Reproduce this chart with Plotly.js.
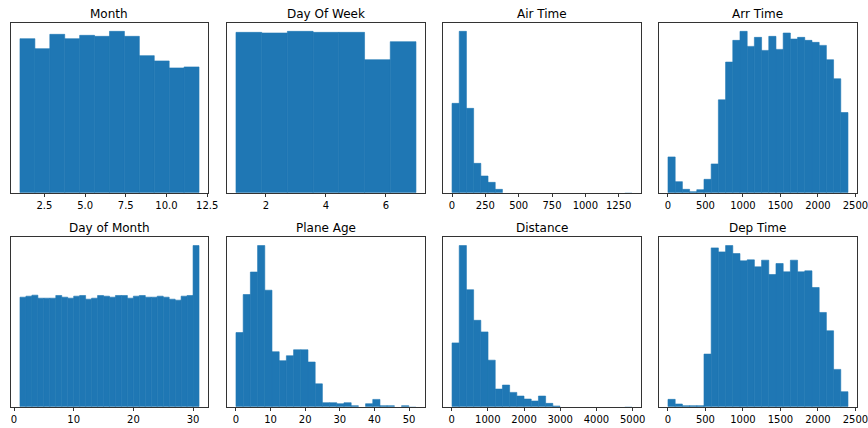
<!DOCTYPE html>
<html><head><meta charset="utf-8">
<script src="https://cdn.plot.ly/plotly-3.0.1.min.js"></script>
<style>html,body{margin:0;padding:0;background:#fff}</style>
</head><body><div id="chart" style="width:868px;height:428px"></div>
<script>
// Panel titles (row 1 then row 2)
const titles = ["Month", "Day Of Week", "Air Time", "Arr Time",
                "Day of Month", "Plane Age", "Distance", "Dep Time"];

// Histogram bin counts (relative)
const monthCounts = [463, 433, 476, 463, 473, 470, 485, 470, 412, 396, 375, 378];
const dayOfWeekCounts = [481, 479, 484, 481, 481, 399, 453];
const airTimeCounts = [268, 484, 253, 88, 50, 31, 10, 0, 0, 0, 0, 0, 0, 0, 0, 0, 0, 0, 0, 0, 0, 0, 0, 0, 0.2];
const arrTimeCounts = [107, 33, 10, 3, 9, 40, 86, 278, 391, 456, 483, 438, 465, 426, 468, 429, 478, 460, 465, 456, 450, 441, 398, 341, 240];
const dayOfMonthCounts = [329, 332, 335, 326, 326, 326, 334, 329, 326, 332, 334, 323, 326, 334, 332, 329, 334, 334, 326, 332, 334, 329, 329, 332, 329, 323, 320, 332, 334, 484];
const planeAgeCounts = [224, 339, 407, 487, 352, 166, 139, 154, 172, 172, 135, 69, 12, 12, 9, 12, 3, 0, 9, 22, 3, 3, 0, 3, 0.5];
const distanceCounts = [192, 485, 352, 260, 225, 140, 53, 65, 43, 32, 23, 17, 32, 10, 2, 0, 0, 0, 0, 0, 0, 0, 0, 0, 0.2];
const depTimeCounts = [22, 8, 3, 3, 3, 158, 477, 465, 484, 460, 438, 441, 420, 440, 397, 430, 405, 440, 405, 408, 358, 283, 228, 112, 45];

// Data range (min, max) of each variable
const monthRange = [1, 12];
const dayOfWeekRange = [1, 7];
const airTimeRange = [0, 1350];
const arrTimeRange = [1, 2400];
const dayOfMonthRange = [1, 31];
const planeAgeRange = [0, 52];
const distanceRange = [11, 4983];
const depTimeRange = [1, 2400];

// Tick spacing per panel
const tickSteps = [2.5, 2, 250, 500, 10, 10, 1000, 500];
const tickFormats = [".1f", "", "", "", "", "", "", ""];

const counts = [monthCounts, dayOfWeekCounts, airTimeCounts, arrTimeCounts,
                dayOfMonthCounts, planeAgeCounts, distanceCounts, depTimeCounts];
const ranges = [monthRange, dayOfWeekRange, airTimeRange, arrTimeRange,
                dayOfMonthRange, planeAgeRange, distanceRange, depTimeRange];

const xDomains = [[0.0127, 0.2396], [0.2615, 0.4896], [0.5104, 0.7385], [0.7592, 0.9873]];
const yDomains = [[0.5498, 0.9456], [0.0498, 0.4451]];

const FONT = "DejaVu Sans, Arial, sans-serif";
const BLUE = "#1f77b4";
const traces = [];
const layout = {
  width: 868, height: 428,
  margin: {l: 0, r: 0, t: 0, b: 0},
  paper_bgcolor: "#ffffff", plot_bgcolor: "#ffffff",
  showlegend: false,
  font: {family: FONT, size: 10, color: "#000"},
  annotations: []
};

for (let i = 0; i < 8; i++) {
  const c = counts[i];
  const [lo, hi] = ranges[i];
  const n = c.length;
  const w = (hi - lo) / n;
  const centers = c.map((_, k) => lo + w * (k + 0.5));
  const sfx = i === 0 ? "" : String(i + 1);
  traces.push({
    type: "bar", x: centers, y: c, width: c.map(() => w),
    xaxis: "x" + sfx, yaxis: "y" + sfx,
    marker: {color: BLUE, line: {width: c.map(v => (v >= 1 ? 0.6 : 0)), color: BLUE}},
    hoverinfo: "x+y"
  });
  const pad = (hi - lo) * 0.05;
  const maxC = Math.max(...c);
  layout["xaxis" + sfx] = {
    domain: xDomains[i % 4], anchor: "y" + sfx,
    range: [lo - pad, hi + pad],
    dtick: tickSteps[i], tick0: 0, tickformat: tickFormats[i],
    ticks: "outside", ticklen: 3.5, tickwidth: 0.8, tickcolor: "#000",
    ticklabeloverflow: "allow",
    showline: true, mirror: true, linecolor: "#333", linewidth: 1,
    showgrid: false, zeroline: false,
    tickfont: {family: FONT, size: 10, color: "#000"}
  };
  layout["yaxis" + sfx] = {
    domain: yDomains[Math.floor(i / 4)], anchor: "x" + sfx,
    range: [0, maxC * 1.05],
    showticklabels: false, ticks: "",
    showline: true, mirror: true, linecolor: "#333", linewidth: 1,
    showgrid: false, zeroline: false
  };
  layout.annotations.push({
    text: titles[i], showarrow: false,
    xref: "x" + sfx + " domain", yref: "y" + sfx + " domain",
    x: 0.5, y: 1, xanchor: "center", yanchor: "bottom", yshift: 0,
    font: {family: FONT, size: 12, color: "#000"}
  });
}

Plotly.newPlot("chart", traces, layout, {displayModeBar: false, staticPlot: true});
</script>
</body></html>
